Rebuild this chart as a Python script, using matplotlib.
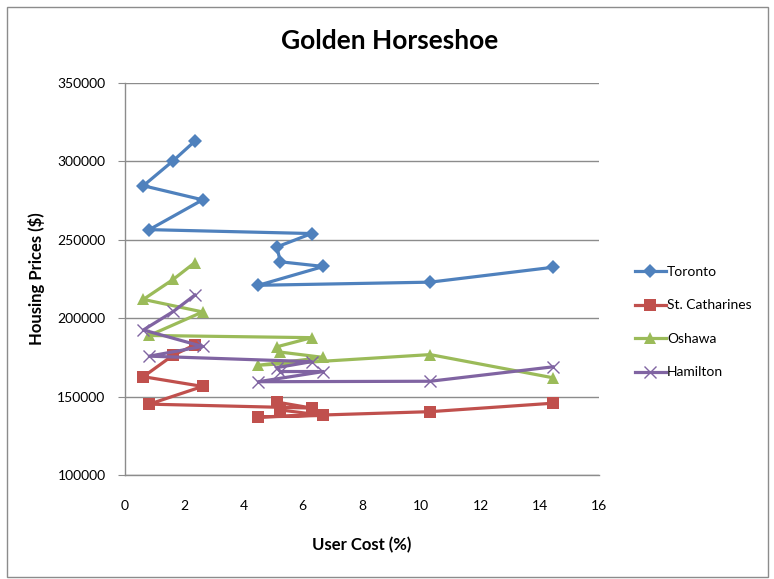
import matplotlib
matplotlib.use("Agg")
import matplotlib.pyplot as plt
from matplotlib.patches import Rectangle

# User cost (%) for each observation, shared by all four cities
user_cost = [2.36, 1.63, 0.62, 2.62, 0.82, 6.30, 5.13, 5.24, 6.70, 4.50, 10.30, 14.45]

toronto = [313000, 300500, 284500, 275500, 256500, 254000, 245500, 236000, 233000, 221000, 223000, 232500]
st_catharines = [183000, 176500, 162700, 156500, 145200, 142700, 146500, 141500, 138000, 137000, 140400, 145800]
oshawa = [235500, 224800, 212000, 204000, 189000, 187600, 181800, 178400, 175000, 170000, 176800, 162000]
hamilton = [214800, 204300, 192500, 182000, 175800, 172300, 168500, 166000, 166000, 159500, 159800, 169000]

series_names = ["Toronto", "St. Catharines", "Oshawa", "Hamilton"]
series_values = [toronto, st_catharines, oshawa, hamilton]
colors = ["#4F81BD", "#C0504D", "#9BBB59", "#8064A2"]
markers = ["D", "s", "^", "x"]
marker_sizes = [7.5, 8.5, 9, 9]

y_ticks = [100000, 150000, 200000, 250000, 300000, 350000]
x_ticks = [0, 2, 4, 6, 8, 10, 12, 14, 16]

plt.rcParams["font.family"] = ["Lato", "DejaVu Sans"]

fig = plt.figure(figsize=(7.74, 5.79), dpi=100)
ax = fig.add_axes([0.1615, 0.1796, 0.7739 - 0.1615, 0.8566 - 0.1796])

# Outer chart border
fig.patches.append(Rectangle((7 / 774, 2 / 579), 761 / 774, 570 / 579,
                             transform=fig.transFigure, fill=False,
                             edgecolor="#8C8C8C", linewidth=1.0))

for name, vals, c, m, ms in zip(series_names, series_values, colors, markers, marker_sizes):
    if m == "x":
        ax.plot(user_cost, vals, color=c, linewidth=2.3, marker=m, markersize=ms,
                markeredgewidth=1.0, markeredgecolor=c, label=name, solid_joinstyle="round")
    else:
        ax.plot(user_cost, vals, color=c, linewidth=2.3, marker=m, markersize=ms,
                markeredgewidth=0, markerfacecolor=c, label=name, solid_joinstyle="round")

ax.set_xlim(0, 16)
ax.set_ylim(100000, 350000)
ax.set_xticks(x_ticks)
ax.set_yticks(y_ticks)
ax.set_xticklabels([str(t) for t in x_ticks], fontsize=10)
ax.set_yticklabels([str(t) for t in y_ticks], fontsize=10)

ax.yaxis.grid(True, color="#8C8C8C", linewidth=1.0)
ax.set_axisbelow(True)
for side in ["top", "right"]:
    ax.spines[side].set_visible(False)
for side in ["left", "bottom"]:
    ax.spines[side].set_color("#8C8C8C")
    ax.spines[side].set_linewidth(1.0)
ax.tick_params(axis="y", length=5, color="#8C8C8C", pad=9)
ax.tick_params(axis="x", length=0, pad=18)

ax.set_xlabel("User Cost (%)", fontsize=12, fontweight="bold", labelpad=18)
ax.set_ylabel("Housing Prices ($)", fontsize=12, fontweight="bold", labelpad=9)

fig.text(0.503, 0.930, "Golden Horseshoe", ha="center", va="center",
         fontsize=19, fontweight="bold")

ax.legend(loc="center left", bbox_to_anchor=(1.05, 0.39), frameon=False,
          fontsize=10, handlelength=2.2, handletextpad=0.1, labelspacing=1.55)

fig.savefig("out.png", dpi=100)
